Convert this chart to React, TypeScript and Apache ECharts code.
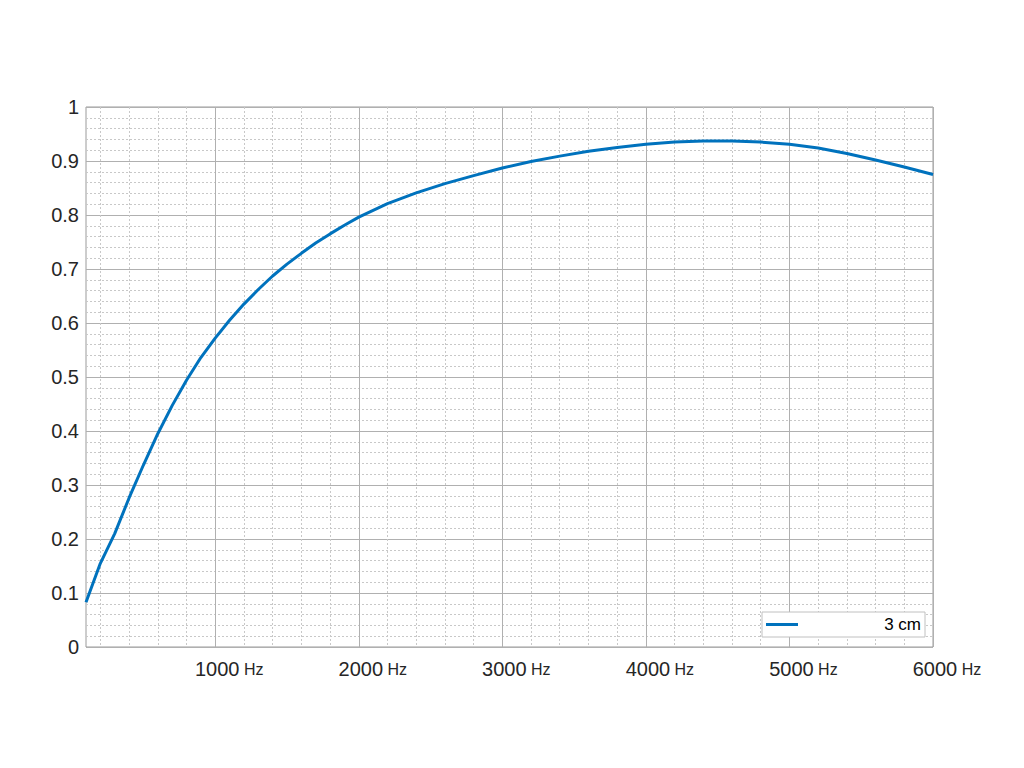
import React, { useEffect, useRef } from "react";
import * as echarts from "echarts";

const freqs = [100, 200, 300, 400, 500, 600, 700, 800, 900, 1000, 1100, 1200, 1300, 1400, 1500, 1600, 1700, 1800, 1900, 2000, 2200, 2400, 2600, 2800, 3000, 3200, 3400, 3600, 3800, 4000, 4200, 4400, 4600, 4800, 5000, 5200, 5400, 5600, 5800, 6000];
const values = [0.083, 0.155, 0.21, 0.276, 0.337, 0.395, 0.447, 0.494, 0.536, 0.572, 0.605, 0.635, 0.662, 0.687, 0.709, 0.729, 0.748, 0.765, 0.781, 0.796, 0.821, 0.841, 0.858, 0.873, 0.887, 0.899, 0.909, 0.918, 0.925, 0.931, 0.935, 0.937, 0.937, 0.935, 0.931, 0.924, 0.914, 0.902, 0.889, 0.875];
const xMajorLabels = [1000, 2000, 3000, 4000, 5000, 6000];
const seriesName = "3 cm";

const FONT = "'Liberation Sans', Arial, sans-serif";
const TEXT = "#262626";
const T = "rgba(0,0,0,0)";

// color cycles for split lines: ticks at 100,200,...,6000
const minorCycle = [T, "#c8c8c8", T, "#c8c8c8", T, "#c8c8c8", T, "#c8c8c8", T, T];
const majorCycle = [T, T, T, T, T, T, T, T, T, "#b0b0b0"];

export default function App() {
  const ref = useRef<HTMLDivElement>(null);
  useEffect(() => {
    if (!ref.current) return;
    const chart = echarts.init(ref.current, undefined, { renderer: "svg" });
    chart.setOption({
      animation: false,
      backgroundColor: "#ffffff",
      textStyle: { fontFamily: FONT },
      grid: {
        left: 86,
        right: 91,
        top: 107,
        bottom: 121,
        show: true,
        borderColor: "#9a9a9a",
        borderWidth: 1,
        backgroundColor: "transparent",
      },
      legend: {
        left: 762,
        top: 612,
        orient: "horizontal",
        backgroundColor: "#ffffff",
        borderColor: "#c0c0c0",
        borderWidth: 1,
        borderRadius: 0,
        padding: [4, 4, 4, 4],
        itemWidth: 32,
        itemHeight: 3,
        itemGap: 5,
        icon: "rect",
        data: [seriesName],
        formatter: "{a|" + seriesName + "}",
        textStyle: {
          rich: {
            a: { width: 118, align: "right", fontSize: 17, color: "#000", fontFamily: FONT, lineHeight: 18 },
          },
        },
      },
      xAxis: [
        {
          type: "value",
          min: 100,
          max: 6000,
          interval: 100,
          axisLine: { show: false },
          axisTick: { show: false },
          splitLine: { show: true, lineStyle: { color: minorCycle, type: [2, 2], width: 1 } },
          axisLabel: {
            interval: 0,
            showMinLabel: true,
            showMaxLabel: true,
            margin: 12,
            padding: [0, 0, 0, 28],
            formatter: (v: number) =>
              xMajorLabels.includes(v) ? "{n|" + v + "}{h| Hz}" : "",
            rich: {
              n: { fontSize: 20, color: TEXT, fontFamily: FONT },
              h: { fontSize: 16, color: TEXT, fontFamily: FONT },
            },
          },
        },
        {
          type: "value",
          min: 100,
          max: 6000,
          interval: 100,
          position: "top",
          axisLine: { show: false },
          axisTick: { show: false },
          axisLabel: { show: false },
          splitLine: { show: true, lineStyle: { color: majorCycle, type: "solid", width: 1 } },
        },
      ],
      yAxis: {
        type: "value",
        min: 0,
        max: 1,
        interval: 0.1,
        axisLine: { show: false },
        axisTick: { show: false },
        axisLabel: { fontSize: 20, color: TEXT, margin: 7, fontFamily: FONT },
        splitLine: { show: true, lineStyle: { color: "#b0b0b0", width: 1 } },
        minorTick: { show: false, splitNumber: 5 },
        minorSplitLine: { show: true, lineStyle: { color: "#c8c8c8", type: [2, 2], width: 1 } },
      },
      series: [
        {
          name: seriesName,
          type: "line",
          xAxisIndex: 0,
          data: freqs.map((f, i) => [f, values[i]]),
          showSymbol: false,
          smooth: false,
          lineStyle: { color: "#0072BD", width: 3 },
          itemStyle: { color: "#0072BD" },
          z: 5,
        },
      ],
    });
    return () => chart.dispose();
  }, []);
  return (
    <div
      ref={ref}
      style={{ position: "absolute", left: 0, top: 0, width: 1024, height: 768 }}
    />
  );
}
